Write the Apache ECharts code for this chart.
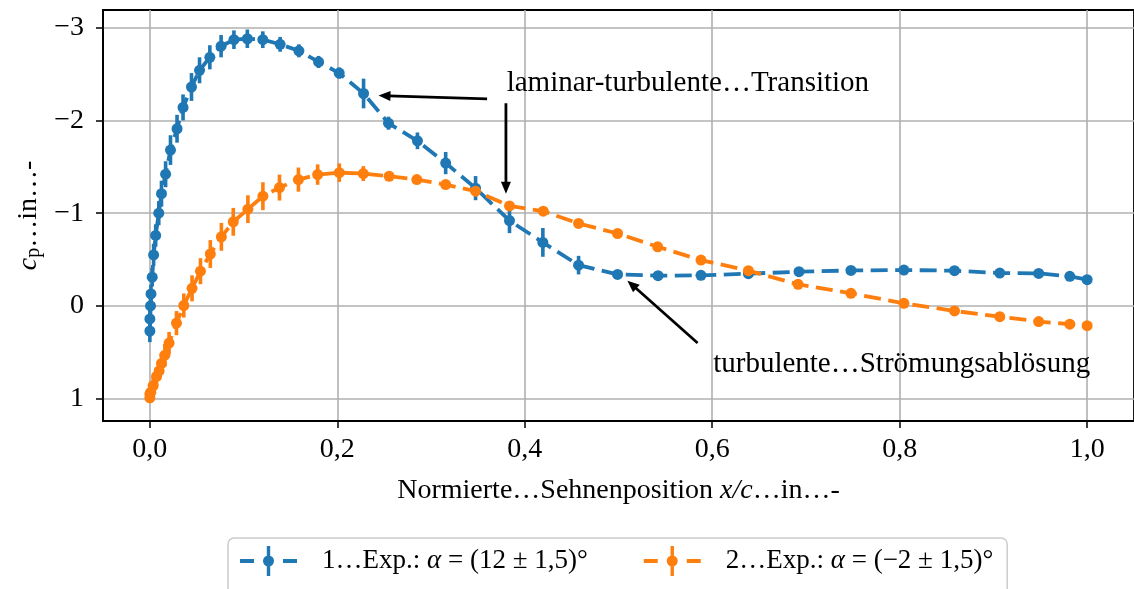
<!DOCTYPE html>
<html>
<head>
<meta charset="utf-8">
<script src="https://cdn.jsdelivr.net/npm/echarts@6/dist/echarts.min.js"></script>
<style>
  html, body { margin: 0; padding: 0; background: #fff; }
  #chart { width: 1134px; height: 589px; }
</style>
</head>
<body>
<div id="chart"></div>
<script>
// Pressure coefficient along the chord, two runs at different angles of attack.
// Each run: chord positions, c_p values and symmetric uncertainties.
const run1Name = '1…Exp.: α = (12 ± 1,5)°';
const run1X = [0.000, 0.000, 0.0007, 0.0012, 0.0025, 0.004, 0.0062, 0.0095, 0.0124, 0.0168,
  0.022, 0.029, 0.0354, 0.0444, 0.053, 0.064, 0.076, 0.0897, 0.104, 0.1205,
  0.139, 0.159, 0.180, 0.202, 0.228, 0.2546, 0.2855, 0.3156, 0.3475, 0.3837,
  0.4193, 0.4574, 0.499, 0.5422, 0.588, 0.6386, 0.6926, 0.748, 0.8045, 0.8585,
  0.9068, 0.9483, 0.9815, 1.000];
const run1Cp = [0.27, 0.14, 0.00, -0.13, -0.31, -0.55, -0.76, -1.00, -1.21, -1.42,
  -1.68, -1.91, -2.14, -2.36, -2.54, -2.68, -2.80, -2.87, -2.88, -2.87,
  -2.82, -2.75, -2.63, -2.51, -2.29, -1.97, -1.78, -1.54, -1.27, -0.92,
  -0.685, -0.44, -0.34, -0.326, -0.33, -0.348, -0.369, -0.383, -0.387, -0.38,
  -0.355, -0.351, -0.319, -0.283];
const run1Err = [0.12, 0.10, 0.10, 0.10, 0.10, 0.12, 0.12, 0.13, 0.14, 0.14,
  0.16, 0.15, 0.14, 0.15, 0.14, 0.13, 0.12, 0.10, 0.10, 0.09,
  0.08, 0.07, 0.065, 0.06, 0.16, 0.07, 0.09, 0.12, 0.13, 0.135,
  0.155, 0.10, 0.03, 0.03, 0.03, 0.03, 0.03, 0.03, 0.03, 0.03,
  0.03, 0.03, 0.03, 0.03];

const run2Name = '2…Exp.: α = (−2 ± 1,5)°';
const run2X = [0.000, 0.000, 0.001, 0.0035, 0.0071, 0.0099, 0.0124, 0.016, 0.0205, 0.0284,
  0.0362, 0.045, 0.054, 0.0645, 0.0763, 0.089, 0.1046, 0.1206, 0.1383, 0.1585,
  0.179, 0.2021, 0.2277, 0.2553, 0.2848, 0.3156, 0.3475, 0.3837, 0.4197, 0.4574,
  0.499, 0.5418, 0.588, 0.6386, 0.6916, 0.748, 0.8045, 0.8585, 0.9068, 0.9483,
  0.9815, 1.000];
const run2Cp = [0.99, 0.95, 0.93, 0.86, 0.76, 0.70, 0.62, 0.53, 0.40, 0.185,
  -0.005, -0.19, -0.375, -0.56, -0.745, -0.907, -1.043, -1.183, -1.276, -1.362,
  -1.416, -1.437, -1.427, -1.398, -1.362, -1.308, -1.237, -1.078, -1.022, -0.889,
  -0.781, -0.638, -0.495, -0.38, -0.233, -0.136, -0.029, 0.054, 0.115, 0.168,
  0.197, 0.212];
const run2Err = [0.05, 0.05, 0.06, 0.08, 0.10, 0.10, 0.11, 0.12, 0.12, 0.13,
  0.13, 0.14, 0.14, 0.15, 0.15, 0.15, 0.15, 0.15, 0.14, 0.13,
  0.11, 0.10, 0.08, 0.05, 0.04, 0.04, 0.04, 0.03, 0.03, 0.03,
  0.03, 0.03, 0.03, 0.03, 0.03, 0.03, 0.03, 0.03, 0.03, 0.03,
  0.03, 0.03];

// Axis ticks
const xTicks = [0, 0.2, 0.4, 0.6, 0.8, 1.0];
const yTicks = [-3, -2, -1, 0, 1];

// Annotation labels and their arrows (data units)
const noteLabels = ['laminar-turbulente…Transition', 'turbulente…Strömungsablösung'];
const noteLabelAt = [[0.3807, -2.40], [0.601, 0.63]];
const noteArrows = [
  [0.3598, -2.233, 0.2439, -2.268],
  [0.3799, -2.185, 0.3799, -1.209],
  [0.5844, 0.399, 0.5095, -0.273]
];

const BLUE = '#1f77b4';
const ORANGE = '#ff7f0e';
const SERIF = 'Liberation Serif';

const zip2 = (a, b) => a.map((v, i) => [v, b[i]]);
const zip3 = (a, b, c) => a.map((v, i) => [v, b[i], c[i]]);

function errorBars(color) {
  return function (params, api) {
    const x = api.value(0), y = api.value(1), e = api.value(2);
    const a = api.coord([x, y - e]);
    const b = api.coord([x, y + e]);
    return {
      type: 'line',
      shape: { x1: a[0], y1: a[1], x2: b[0], y2: b[1] },
      style: { stroke: color, lineWidth: 3.6 }
    };
  };
}

function drawArrow(params, api) {
  const t = api.coord([api.value(0), api.value(1)]);
  const h = api.coord([api.value(2), api.value(3)]);
  const dx = h[0] - t[0], dy = h[1] - t[1];
  const len = Math.sqrt(dx * dx + dy * dy);
  const ux = dx / len, uy = dy / len;
  const headLen = 12, headHalf = 5;
  const bx = h[0] - ux * headLen, by = h[1] - uy * headLen;
  return {
    type: 'group',
    children: [
      {
        type: 'line',
        shape: { x1: t[0], y1: t[1], x2: bx + ux * 2, y2: by + uy * 2 },
        style: { stroke: '#000', lineWidth: 2.8 }
      },
      {
        type: 'polygon',
        shape: { points: [[h[0], h[1]], [bx - uy * headHalf, by + ux * headHalf], [bx + uy * headHalf, by - ux * headHalf]] },
        style: { fill: '#000' }
      }
    ]
  };
}

function drawLabel(params, api) {
  const p = api.coord([api.value(0), api.value(1)]);
  return {
    type: 'text',
    x: p[0], y: p[1],
    style: {
      text: noteLabels[params.dataIndex],
      fontFamily: SERIF, fontSize: 29, fill: '#000',
      align: 'left', verticalAlign: 'middle'
    }
  };
}

const legendIcon = 'path://M0,13 H14 V17 H0 Z M43,13 H57 V17 H43 Z M26.8,0 H30.2 V30 H26.8 Z M23,15 A5.5,5.5 0 1,1 34,15 A5.5,5.5 0 1,1 23,15 Z';

const fmtX = v => v.toFixed(1).replace('.', ',');
const fmtY = v => (v < 0 ? '\u2212' + Math.abs(v) : String(v));

const chart = echarts.init(document.getElementById('chart'), null, { renderer: 'canvas' });

chart.setOption({
  animation: false,
  backgroundColor: '#fff',
  grid: {
    left: 103, top: 10, width: 1034, height: 411,
    show: true, borderColor: '#000', borderWidth: 1.8, backgroundColor: 'transparent'
  },
  xAxis: {
    type: 'value', min: -0.05, max: 1.05,
    axisLine: { show: true, onZero: false, lineStyle: { color: '#000', width: 1.8 } },
    axisTick: { show: true, length: 7, lineStyle: { color: '#000', width: 1.5 }, customValues: xTicks },
    axisLabel: {
      customValues: xTicks, formatter: fmtX, margin: 15,
      fontFamily: SERIF, fontSize: 28, color: '#000'
    },
    splitLine: { show: true, lineStyle: { color: '#b0b0b0', width: 1.6 } },
    name: '{n|Normierte…Sehnenposition }{i|x/c}{n|…in…-}',
    nameLocation: 'middle', nameGap: 56,
    nameTextStyle: {
      rich: {
        n: { fontFamily: SERIF, fontSize: 28, color: '#000' },
        i: { fontFamily: SERIF, fontSize: 28, fontStyle: 'italic', color: '#000' }
      }
    }
  },
  yAxis: {
    type: 'value', inverse: true, min: -3.19, max: 1.24,
    axisLine: { show: true, onZero: false, lineStyle: { color: '#000', width: 1.8 } },
    axisTick: { show: true, length: 7, lineStyle: { color: '#000', width: 1.5 }, customValues: yTicks },
    axisLabel: {
      customValues: yTicks, formatter: fmtY, margin: 19,
      fontFamily: SERIF, fontSize: 28, color: '#000'
    },
    splitLine: { show: true, lineStyle: { color: '#b0b0b0', width: 1.6 } },
    name: '{i|c}{s|p}{n|…in…-}',
    nameLocation: 'middle', nameGap: 49, nameRotate: 90,
    nameTextStyle: {
      rich: {
        i: { fontFamily: SERIF, fontSize: 28, fontStyle: 'italic', color: '#000', lineHeight: 30 },
        s: { fontFamily: SERIF, fontSize: 20, color: '#000', lineHeight: 14, verticalAlign: 'bottom' },
        n: { fontFamily: SERIF, fontSize: 28, color: '#000', lineHeight: 30 }
      }
    }
  },
  legend: {
    left: 228, top: 538,
    orient: 'horizontal',
    itemWidth: 57, itemHeight: 30, itemGap: 56,
    padding: [8, 14, 24, 12],
    backgroundColor: '#fff',
    borderColor: '#cccccc', borderWidth: 1.5, borderRadius: 6,
    selectedMode: false,
    data: [
      { name: run1Name, icon: legendIcon, itemStyle: { color: BLUE } },
      { name: run2Name, icon: legendIcon, itemStyle: { color: ORANGE } }
    ],
    formatter: name => '{g|}' + name.replace('α', '{i|α}').split(/(\{i\|α\})/).map(s => s.startsWith('{i|') ? s : (s ? '{n|' + s + '}' : '')).join(''),
    textStyle: {
      rich: {
        g: { width: 20 },
        n: { fontFamily: SERIF, fontSize: 27, color: '#000' },
        i: { fontFamily: SERIF, fontSize: 27, fontStyle: 'italic', color: '#000' }
      }
    }
  },
  series: [
    {
      name: run1Name, type: 'line', data: zip2(run1X, run1Cp),
      symbol: 'circle', symbolSize: 11, showSymbol: true,
      itemStyle: { color: BLUE },
      lineStyle: { color: BLUE, width: 3.8, type: [17, 7.5] },
      emphasis: { disabled: true }, z: 2
    },
    {
      name: run1Name, type: 'custom', data: zip3(run1X, run1Cp, run1Err),
      renderItem: errorBars(BLUE), encode: { x: 0, y: 1 },
      itemStyle: { color: BLUE }, z: 2, silent: true
    },
    {
      name: run2Name, type: 'line', data: zip2(run2X, run2Cp),
      symbol: 'circle', symbolSize: 11, showSymbol: true,
      itemStyle: { color: ORANGE },
      lineStyle: { color: ORANGE, width: 3.8, type: [17, 7.5] },
      emphasis: { disabled: true }, z: 3
    },
    {
      name: run2Name, type: 'custom', data: zip3(run2X, run2Cp, run2Err),
      renderItem: errorBars(ORANGE), encode: { x: 0, y: 1 },
      itemStyle: { color: ORANGE }, z: 3, silent: true
    },
    {
      name: 'arrows', type: 'custom', data: noteArrows,
      renderItem: drawArrow, encode: { x: [0, 2], y: [1, 3] },
      z: 5, silent: true
    },
    {
      name: 'labels', type: 'custom', data: noteLabelAt,
      renderItem: drawLabel, encode: { x: 0, y: 1 },
      z: 5, silent: true
    }
  ]
});
</script>
</body>
</html>
